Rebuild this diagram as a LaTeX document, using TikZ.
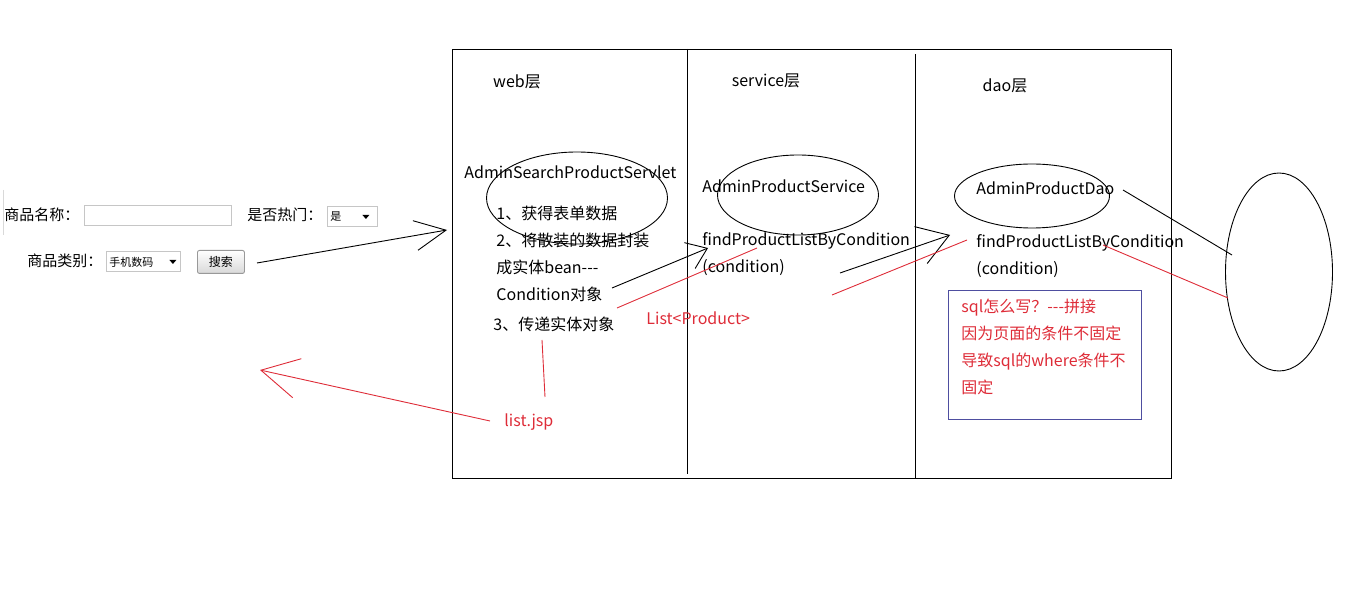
\documentclass[tikz,border=0pt]{standalone}
\usepackage{fontspec}
\setmainfont{Noto Sans CJK SC}
\usetikzlibrary{arrows.meta,shapes.geometric}
\definecolor{jspred}{RGB}{222,44,56}
\definecolor{notebd}{RGB}{78,78,160}
\tikzset{
  px/.style={x=1pt, y=-1pt, line width=0.9pt, every node/.style={inner sep=0pt, font=\fontsize{16}{27}\selectfont}},
  txt/.style={anchor=west, align=left},
  formtxt/.style={txt, font=\fontsize{15}{18}\selectfont},
  oval/.style={draw, ellipse, minimum width=#1},
  field/.style={draw=gray!45, fill=white, anchor=north west, minimum height=20pt},
  pick/.style={field, font=\fontsize{11}{13}\selectfont, text depth=0pt, align=left},
  barb/.style 2 args={-{Straight Barb[length=#1pt, width=#2pt]}}
}
\begin{document}
\begin{tikzpicture}[px]
\useasboundingbox (0,0) rectangle (1350,609);
% the three layers
\node[draw, anchor=north west, minimum width=719pt, minimum height=429pt] (frame) at (452,49) {};
\draw (687,49) -- (687,474);
\draw (915,54) -- (915,478);
\node (webh) at (517,82) {web层};
\node (svch) at (766,81) {service层};
\node (daoh) at (1005,86) {dao层};
% web
\node[oval=181pt, minimum height=92pt] (servlet) at (577,198) {};
\node[txt] (sname) at (464,172) {AdminSearchProductServlet};
\node[txt] (steps) at (496,254) {1、获得表单数据\\2、将散装的数据封装\\成实体bean-{}-{}-\\Condition对象};
\node[txt] (pass) at (493,324) {3、传递实体对象};
% service
\node[oval=161pt, minimum height=80pt] (service) at (798,195) {};
\node[txt] (vname) at (702,186) {AdminProductService};
\node[txt] (vfind) at (702,254) {findProductListByCondition\\(condition)};
% dao
\node[oval=155pt, minimum height=64pt] (dao) at (1032,196) {};
\node[txt] (dname) at (976,188) {AdminProductDao};
\node[txt] (dfind) at (976,256) {findProductListByCondition\\(condition)};
\node[draw=notebd, anchor=north west, minimum width=193pt, minimum height=129pt] (note) at (948,290) {};
\node[txt, text=jspred] (ntext) at (961,347) {sql怎么写？-{}-{}-拼接\\因为页面的条件不固定\\导致sql的where条件不\\固定};
% database
\node[oval=107pt, minimum height=198pt] (db) at (1279,272) {};
% search form
\draw[gray!30] (3,190) -- (3,235);
\node[formtxt] (lname) at (4,215) {商品名称：};
\node[field, minimum width=147pt] (fname) at (84,205) {};
\node[formtxt] (lhot) at (247,215) {是否热门：};
\node[pick, minimum width=50pt, text width=44pt] (fhot) at (327,206) {是};
\fill ([xshift=-12pt]fhot.east) ++(-3.5,-1.5) -- ++(7,0) -- ++(-3.5,4) -- cycle;
\node[formtxt] (lcat) at (27,261) {商品类别：};
\node[pick, minimum width=74pt, text width=68pt] (fcat) at (106,251) {手机数码};
\fill ([xshift=-8pt]fcat.east) ++(-3.5,-1.5) -- ++(7,0) -- ++(-3.5,4) -- cycle;
\node[draw=gray!80, rounded corners=2pt, top color=white, bottom color=gray!30, anchor=north west,
  minimum width=47pt, minimum height=23pt, font=\fontsize{12}{14}\selectfont] (go) at (197,250) {搜索};
% calls
\coordinate (c1) at (257,263); \coordinate (c1t) at (447,230);
\coordinate (c2) at (612,288); \coordinate (c2t) at (708,248);
\coordinate (c3) at (840,273); \coordinate (c3t) at (950,235);
\coordinate (c4) at (1123,190); \coordinate (c4t) at (1232,255);
\draw[barb={31}{30}] (c1) -- (c1t);
\draw[barb={19}{28}] (c2) -- (c2t);
\draw[barb={30}{39}] (c3) -- (c3t);
\draw (c4) -- (c4t);
% results
\coordinate (r1) at (1228,298); \coordinate (r1t) at (1103,245);
\coordinate (r2) at (967,240); \coordinate (r2t) at (832,295);
\coordinate (r3) at (757,248); \coordinate (r3t) at (617,308);
\coordinate (r4) at (542,340); \coordinate (r4t) at (545,397);
\coordinate (r5) at (490,421); \coordinate (r5t) at (260,370);
\draw[jspred] (r1) -- (r1t);
\draw[jspred] (r2) -- (r2t);
\draw[jspred] (r3) -- (r3t);
\draw[jspred] (r4) -- (r4t);
\draw[jspred, barb={37}{40}] (r5) -- (r5t);
\node[txt, text=jspred] (plist) at (646,318) {List<Product>};
\node[txt, text=jspred] (jsp) at (504,422) {list.jsp};
\end{tikzpicture}
\end{document}
